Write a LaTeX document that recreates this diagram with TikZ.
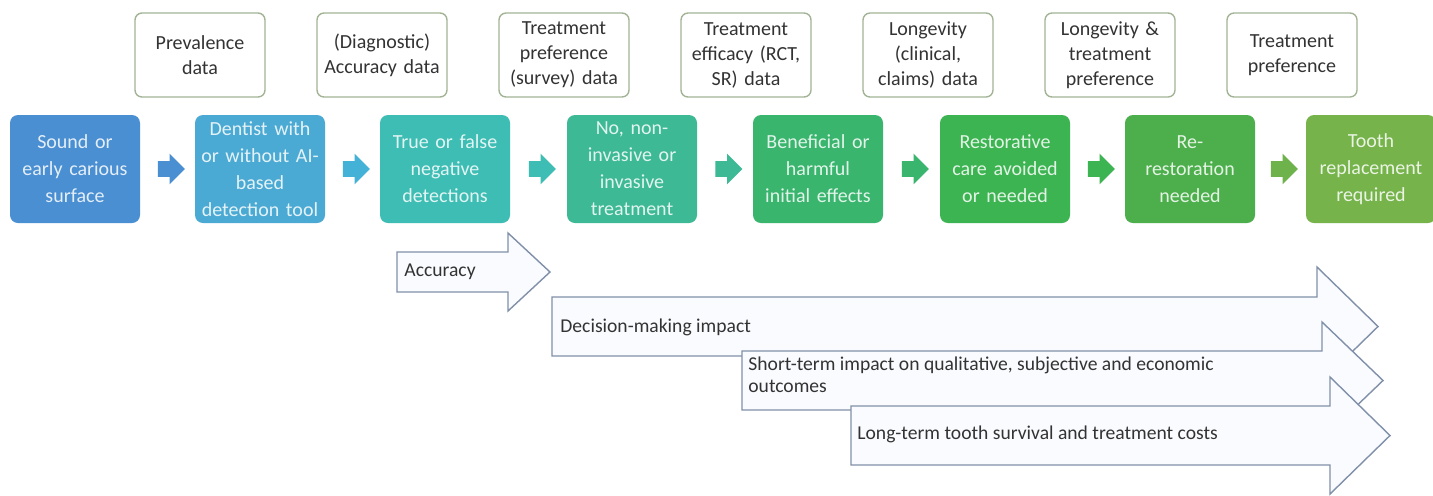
\documentclass[tikz,border=0pt]{standalone}
\usepackage{fontspec}
\setmainfont{Carlito}
\usepackage{xcolor}
\usepackage{tikz}
\usetikzlibrary{calc,positioning,shapes.arrows}
\definecolor{StageA}{HTML}{4A8FD2}
\definecolor{StageB}{HTML}{4BAAD3}
\definecolor{StageC}{HTML}{3EBDB4}
\definecolor{StageD}{HTML}{3DB995}
\definecolor{StageE}{HTML}{39B56E}
\definecolor{StageF}{HTML}{3DB452}
\definecolor{StageG}{HTML}{4CAF4C}
\definecolor{StageH}{HTML}{76B34B}
\definecolor{DataRim}{HTML}{A3B496}
\definecolor{Ink}{HTML}{333333}
\definecolor{ArrowRim}{HTML}{8190A9}
\definecolor{ArrowFill}{HTML}{F9FBFE}
\tikzset{
  stagebox/.style={rounded corners=4pt,minimum width=65pt,minimum height=54pt,text width=62pt,align=center,inner sep=1pt,text=white,text opacity=.85,font=\fontsize{10}{13.5}\selectfont},
  databox/.style={draw=DataRim,line width=.7pt,fill=white,rounded corners=3.5pt,minimum width=65pt,minimum height=42pt,text width=62pt,align=center,inner sep=1pt,text=Ink,font=\fontsize{10}{12.5}\selectfont},
  flowtip/.style={single arrow,minimum height=13.5pt,minimum width=15pt,single arrow head extend=3.75pt,inner sep=3.75pt,draw=none},
  scopearrow/.style={draw=ArrowRim,line width=.7pt,fill=ArrowFill,line join=miter},
  scopetext/.style={text=Ink,inner sep=0pt,align=left,font=\fontsize{9.8}{11}\selectfont}
}
% left, top, bottom, neck, tip, head extend
\newcommand{\scopearr}[6]{\draw[scopearrow] (#1,#2) -- (#4,#2) -- (#4,#2-#6) -- (#5,{(#2+#3)/2}) -- (#4,#3+#6) -- (#4,#3) -- (#1,#3) -- cycle;}
\begin{document}
\begin{tikzpicture}[x=.5pt,y=-.5pt]
\useasboundingbox[fill=white] (0,0) rectangle (1433,495);
% stages
\node[stagebox,fill=StageA] (sound) at (75,169) {Sound or\\early carious\\surface};
\node[stagebox,fill=StageB] (dentist) at (260,169) {Dentist with\\or without AI-\\based\\detection tool};
\node[stagebox,fill=StageC] (detect) at (445,169) {True or false\\negative\\detections};
\node[stagebox,fill=StageD] (treat) at (632,169) {No, non-\\invasive or\\invasive\\treatment};
\node[stagebox,fill=StageE] (effect) at (818,169) {Beneficial or\\harmful\\initial effects};
\node[stagebox,fill=StageF] (restore) at (1005,169) {Restorative\\care avoided\\or needed};
\node[stagebox,fill=StageG] (rerest) at (1190,169) {Re-\\restoration\\needed};
\node[stagebox,fill=StageH] (replace) at (1371,169) {Tooth\\replacement\\required};
% small arrows between stages
\node[flowtip,fill=StageA] at ($(sound.east)!.5!(dentist.west)$) {};
\node[flowtip,fill=StageB!90!cyan] at ($(dentist.east)!.5!(detect.west)$) {};
\node[flowtip,fill=StageC] at ($(detect.east)!.5!(treat.west)$) {};
\node[flowtip,fill=StageD] at ($(treat.east)!.5!(effect.west)$) {};
\node[flowtip,fill=StageE] at ($(effect.east)!.5!(restore.west)$) {};
\node[flowtip,fill=StageF] at ($(restore.east)!.5!(rerest.west)$) {};
\node[flowtip,fill=StageH!80!StageG] at ($(rerest.east)!.5!(replace.west)$) {};
% data sources
\node[databox] (prev) at (200,55) {Prevalence\\data};
\node[databox] (diag) at (382,55) {(Diagnostic)\\Accuracy data};
\node[databox] (pref) at (564,55) {Treatment\\preference\\(survey) data};
\node[databox] (eff) at (746,55) {Treatment\\efficacy (RCT,\\SR) data};
\node[databox] (longv) at (928,55) {Longevity\\(clinical,\\claims) data};
\node[databox] (longpref) at (1110,55) {Longevity \&\\treatment\\preference};
\node[databox] (tpref) at (1292,55) {Treatment\\preference};
% outcome scopes
\scopearr{397}{252}{292}{508}{550}{19}
\node[scopetext,anchor=west] (acc) at (404,272) {Accuracy};
\scopearr{552}{297}{356}{1317}{1378}{30}
\node[scopetext,anchor=west] (dmi) at (560,327) {Decision-making impact};
\scopearr{742}{351}{410}{1322}{1383}{29}
\node[scopetext,anchor=north west] (sti) at (748,356) {Short-term impact on qualitative, subjective and economic\\outcomes};
\scopearr{851}{406}{465}{1330}{1390}{29}
\node[scopetext,anchor=west] (lti) at (857,434) {Long-term tooth survival and treatment costs};
\end{tikzpicture}
\end{document}
